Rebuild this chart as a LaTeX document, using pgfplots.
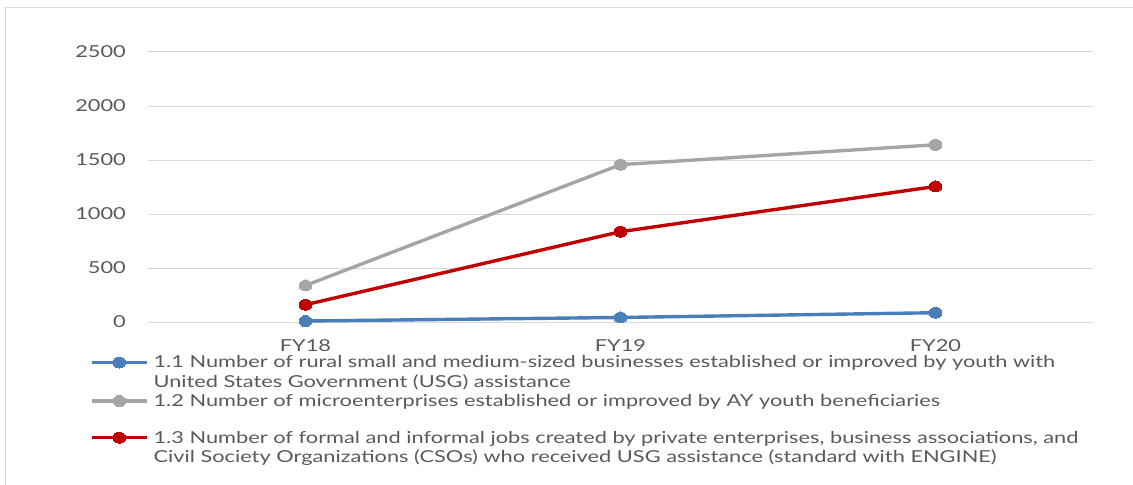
\documentclass[border=0pt]{standalone}
\usepackage{fontspec}
\setmainfont{Lato}[FakeStretch=1.32]
\usepackage{pgfplots}
\pgfplotsset{compat=1.18}
\definecolor{cblue}{HTML}{4A7EBB}
\definecolor{cgray}{HTML}{A5A5A5}
\definecolor{cred}{HTML}{C00000}
\definecolor{txt}{HTML}{595959}
\definecolor{gridc}{HTML}{D9D9D9}
\newcommand\ls{\rule[-4.6bp]{0pt}{15.6bp}}
\pgfplotsset{
  sblue/.style={color=cblue, line width=3.4bp, mark=*, mark size=5.5bp, mark options={fill=cblue, draw=cblue, line width=0pt, xscale=1.15}},
  sgray/.style={color=cgray, line width=3.4bp, mark=*, mark size=5.5bp, mark options={fill=cgray, draw=cgray, line width=0pt, xscale=1.15}},
  sred/.style={color=cred, line width=3.4bp, mark=*, mark size=5.5bp, mark options={fill=cred, draw=cred, line width=0pt, xscale=1.15}},
}
\begin{document}
\begin{tikzpicture}
\path[use as bounding box] (-148bp,-163bp) rectangle (985bp,322bp);
\draw[draw=gridc, line width=1bp] (-142bp,-163bp) -- (-142bp,314bp) -- (985bp,314bp);
\begin{axis}[
  at={(0,0)}, anchor=south west,
  scale only axis, width=945bp, height=270bp,
  xmin=-0.5, xmax=2.5, ymin=0, ymax=2500,
  ytick={0,500,...,2500}, xtick={0,1,2}, xticklabels={FY18,FY19,FY20},
  axis line style={draw=none},
  ymajorgrids, grid style={draw=gridc, line width=1bp},
  major tick length=0pt,
  /pgf/number format/assume math mode=true,
  /pgf/number format/set thousands separator={},
  tick label style={font=\fontsize{16.5bp}{18bp}\selectfont, text=txt, inner sep=0pt},
  yticklabel style={anchor=east, xshift=-22bp},
  xticklabel style={anchor=base, yshift=-29bp},
  legend style={at={(axis description cs:0,0)}, anchor=north west, xshift=-58bp, yshift=-31.5bp,
    draw=none, fill=none, inner sep=0pt, font=\fontsize{16.5bp}{18.8bp}\selectfont, text=txt,
    cells={anchor=west, inner sep=0pt}, row sep=1.3bp, column sep=3bp},
  legend image code/.code={
    \path[draw=none] (0bp,7.5bp) -- (0bp,-7.5bp);
    \draw[mark repeat=2, mark phase=2, #1] plot coordinates {(0bp,0bp) (27.5bp,0bp) (55bp,0bp)};
  },
]
\addplot[sblue, forget plot] coordinates {(0,9) (1,42) (2,86)};
\addplot[sgray, forget plot] coordinates {(0,338) (1,1457) (2,1641)};
\addplot[sred, forget plot] coordinates {(0,160) (1,836) (2,1255)};
\addlegendimage{sblue}
\addlegendentry{\ls 1.1 Number of rural small and medium-sized businesses established or improved by youth with}
\addlegendimage{empty legend}
\addlegendentry{\ls United States Government (USG) assistance}
\addlegendimage{sgray}
\addlegendentry{\ls 1.2 Number of microenterprises established or improved by AY youth beneficiaries}
\addlegendimage{empty legend}
\addlegendentry{\ls}
\addlegendimage{sred}
\addlegendentry{\ls 1.3 Number of formal and informal jobs created by private enterprises, business associations, and}
\addlegendimage{empty legend}
\addlegendentry{\ls Civil Society Organizations (CSOs) who received USG assistance (standard with ENGINE)}
\end{axis}
\end{tikzpicture}
\end{document}
